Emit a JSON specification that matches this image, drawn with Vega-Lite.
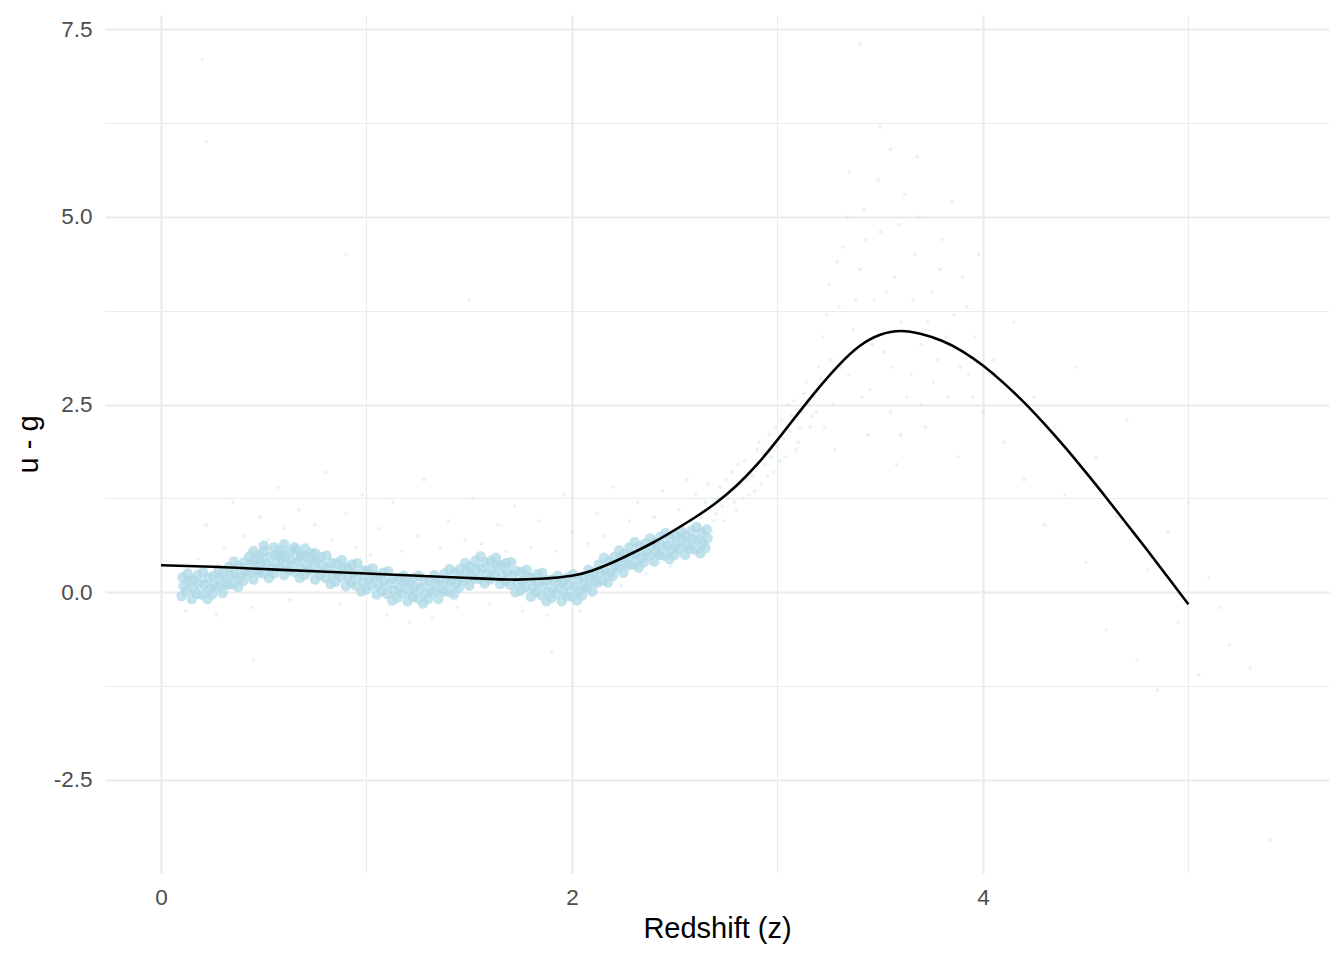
{
  "$schema": "https://vega.github.io/schema/vega-lite/v6.json",
  "width": 1224,
  "height": 858,
  "autosize": {"type": "none"},
  "padding": {"left": 105, "top": 15, "right": 15, "bottom": 87},
  "background": "white",
  "config": {
    "view": {"stroke": null},
    "font": "Liberation Sans",
    "axis": {
      "domain": false,
      "ticks": false,
      "grid": true,
      "gridColor": "#EBEBEB",
      "labelFont": "Liberation Sans",
      "labelFontSize": 22.5,
      "labelColor": "#4D4D4D",
      "titleFont": "Liberation Sans",
      "titleFontSize": 29,
      "titleFontWeight": "normal",
      "titleColor": "black"
    }
  },
  "datasets": {
    "core": [
      {"z":0.100,"ug":-0.05},{"z":0.110,"ug":0.08},{"z":0.105,"ug":0.20},
      {"z":0.125,"ug":0.02},{"z":0.135,"ug":0.15},{"z":0.130,"ug":0.25},
      {"z":0.150,"ug":-0.09},{"z":0.160,"ug":0.04},{"z":0.155,"ug":0.16},
      {"z":0.175,"ug":-0.02},{"z":0.185,"ug":0.12},{"z":0.180,"ug":0.23},
      {"z":0.200,"ug":-0.03},{"z":0.210,"ug":0.10},{"z":0.205,"ug":0.27},
      {"z":0.225,"ug":-0.09},{"z":0.235,"ug":0.04},{"z":0.230,"ug":0.19},
      {"z":0.250,"ug":-0.03},{"z":0.260,"ug":0.10},{"z":0.255,"ug":0.22},
      {"z":0.275,"ug":0.07},{"z":0.285,"ug":0.20},{"z":0.280,"ug":0.30},
      {"z":0.300,"ug":-0.01},{"z":0.310,"ug":0.12},{"z":0.305,"ug":0.24},
      {"z":0.325,"ug":0.10},{"z":0.335,"ug":0.23},{"z":0.330,"ug":0.34},
      {"z":0.350,"ug":0.11},{"z":0.360,"ug":0.24},{"z":0.355,"ug":0.41},
      {"z":0.375,"ug":0.07},{"z":0.385,"ug":0.20},{"z":0.380,"ug":0.35},
      {"z":0.400,"ug":0.15},{"z":0.410,"ug":0.28},{"z":0.405,"ug":0.40},
      {"z":0.425,"ug":0.25},{"z":0.435,"ug":0.38},{"z":0.430,"ug":0.48},
      {"z":0.450,"ug":0.17},{"z":0.460,"ug":0.30},{"z":0.455,"ug":0.42},
      {"z":0.475,"ug":0.26},{"z":0.485,"ug":0.39},{"z":0.480,"ug":0.50},
      {"z":0.500,"ug":0.25},{"z":0.510,"ug":0.38},{"z":0.505,"ug":0.55},
      {"z":0.525,"ug":0.19},{"z":0.535,"ug":0.32},{"z":0.530,"ug":0.47},
      {"z":0.550,"ug":0.25},{"z":0.560,"ug":0.38},{"z":0.555,"ug":0.50},
      {"z":0.575,"ug":0.33},{"z":0.585,"ug":0.46},{"z":0.580,"ug":0.56},
      {"z":0.600,"ug":0.23},{"z":0.610,"ug":0.36},{"z":0.605,"ug":0.48},
      {"z":0.625,"ug":0.30},{"z":0.635,"ug":0.43},{"z":0.630,"ug":0.54},
      {"z":0.650,"ug":0.27},{"z":0.660,"ug":0.40},{"z":0.655,"ug":0.57},
      {"z":0.675,"ug":0.19},{"z":0.685,"ug":0.32},{"z":0.680,"ug":0.47},
      {"z":0.700,"ug":0.23},{"z":0.710,"ug":0.36},{"z":0.705,"ug":0.48},
      {"z":0.725,"ug":0.29},{"z":0.735,"ug":0.42},{"z":0.730,"ug":0.52},
      {"z":0.750,"ug":0.17},{"z":0.760,"ug":0.30},{"z":0.755,"ug":0.42},
      {"z":0.775,"ug":0.23},{"z":0.785,"ug":0.36},{"z":0.780,"ug":0.47},
      {"z":0.800,"ug":0.19},{"z":0.810,"ug":0.32},{"z":0.805,"ug":0.49},
      {"z":0.825,"ug":0.11},{"z":0.835,"ug":0.24},{"z":0.830,"ug":0.39},
      {"z":0.850,"ug":0.14},{"z":0.860,"ug":0.27},{"z":0.855,"ug":0.39},
      {"z":0.875,"ug":0.20},{"z":0.885,"ug":0.33},{"z":0.880,"ug":0.43},
      {"z":0.900,"ug":0.08},{"z":0.910,"ug":0.21},{"z":0.905,"ug":0.33},
      {"z":0.925,"ug":0.13},{"z":0.935,"ug":0.26},{"z":0.930,"ug":0.37},
      {"z":0.950,"ug":0.09},{"z":0.960,"ug":0.22},{"z":0.955,"ug":0.39},
      {"z":0.975,"ug":0.01},{"z":0.985,"ug":0.14},{"z":0.980,"ug":0.29},
      {"z":1.000,"ug":0.04},{"z":1.010,"ug":0.17},{"z":1.005,"ug":0.29},
      {"z":1.025,"ug":0.09},{"z":1.035,"ug":0.22},{"z":1.030,"ug":0.32},
      {"z":1.050,"ug":-0.03},{"z":1.060,"ug":0.10},{"z":1.055,"ug":0.22},
      {"z":1.075,"ug":0.02},{"z":1.085,"ug":0.15},{"z":1.080,"ug":0.26},
      {"z":1.100,"ug":-0.02},{"z":1.110,"ug":0.11},{"z":1.105,"ug":0.28},
      {"z":1.125,"ug":-0.11},{"z":1.135,"ug":0.03},{"z":1.130,"ug":0.18},
      {"z":1.150,"ug":-0.07},{"z":1.160,"ug":0.06},{"z":1.155,"ug":0.18},
      {"z":1.175,"ug":-0.01},{"z":1.185,"ug":0.12},{"z":1.180,"ug":0.22},
      {"z":1.200,"ug":-0.12},{"z":1.210,"ug":0.01},{"z":1.205,"ug":0.13},
      {"z":1.225,"ug":-0.06},{"z":1.235,"ug":0.08},{"z":1.230,"ug":0.19},
      {"z":1.250,"ug":-0.08},{"z":1.260,"ug":0.05},{"z":1.255,"ug":0.22},
      {"z":1.275,"ug":-0.15},{"z":1.285,"ug":-0.02},{"z":1.280,"ug":0.14},
      {"z":1.300,"ug":-0.09},{"z":1.310,"ug":0.04},{"z":1.305,"ug":0.16},
      {"z":1.325,"ug":0.00},{"z":1.335,"ug":0.13},{"z":1.330,"ug":0.23},
      {"z":1.350,"ug":-0.09},{"z":1.360,"ug":0.04},{"z":1.355,"ug":0.16},
      {"z":1.375,"ug":0.01},{"z":1.385,"ug":0.14},{"z":1.380,"ug":0.25},
      {"z":1.400,"ug":0.01},{"z":1.410,"ug":0.14},{"z":1.405,"ug":0.31},
      {"z":1.425,"ug":-0.03},{"z":1.435,"ug":0.11},{"z":1.430,"ug":0.26},
      {"z":1.450,"ug":0.06},{"z":1.460,"ug":0.19},{"z":1.455,"ug":0.31},
      {"z":1.475,"ug":0.16},{"z":1.485,"ug":0.29},{"z":1.480,"ug":0.39},
      {"z":1.500,"ug":0.09},{"z":1.510,"ug":0.22},{"z":1.505,"ug":0.34},
      {"z":1.525,"ug":0.18},{"z":1.535,"ug":0.31},{"z":1.530,"ug":0.42},
      {"z":1.550,"ug":0.18},{"z":1.560,"ug":0.31},{"z":1.555,"ug":0.48},
      {"z":1.575,"ug":0.12},{"z":1.585,"ug":0.25},{"z":1.580,"ug":0.40},
      {"z":1.600,"ug":0.17},{"z":1.610,"ug":0.30},{"z":1.605,"ug":0.42},
      {"z":1.625,"ug":0.23},{"z":1.635,"ug":0.36},{"z":1.630,"ug":0.46},
      {"z":1.650,"ug":0.11},{"z":1.660,"ug":0.24},{"z":1.655,"ug":0.36},
      {"z":1.675,"ug":0.15},{"z":1.685,"ug":0.28},{"z":1.680,"ug":0.39},
      {"z":1.700,"ug":0.10},{"z":1.710,"ug":0.23},{"z":1.705,"ug":0.40},
      {"z":1.725,"ug":0.00},{"z":1.735,"ug":0.13},{"z":1.730,"ug":0.28},
      {"z":1.750,"ug":0.02},{"z":1.760,"ug":0.15},{"z":1.755,"ug":0.27},
      {"z":1.775,"ug":0.07},{"z":1.785,"ug":0.20},{"z":1.780,"ug":0.30},
      {"z":1.800,"ug":-0.06},{"z":1.810,"ug":0.07},{"z":1.805,"ug":0.19},
      {"z":1.825,"ug":0.00},{"z":1.835,"ug":0.13},{"z":1.830,"ug":0.24},
      {"z":1.850,"ug":-0.04},{"z":1.860,"ug":0.09},{"z":1.855,"ug":0.26},
      {"z":1.875,"ug":-0.12},{"z":1.885,"ug":0.01},{"z":1.880,"ug":0.16},
      {"z":1.900,"ug":-0.08},{"z":1.910,"ug":0.05},{"z":1.905,"ug":0.17},
      {"z":1.925,"ug":-0.02},{"z":1.935,"ug":0.12},{"z":1.930,"ug":0.22},
      {"z":1.950,"ug":-0.12},{"z":1.960,"ug":0.01},{"z":1.955,"ug":0.13},
      {"z":1.975,"ug":-0.05},{"z":1.985,"ug":0.09},{"z":1.980,"ug":0.20},
      {"z":2.000,"ug":-0.06},{"z":2.010,"ug":0.07},{"z":2.005,"ug":0.24},
      {"z":2.025,"ug":-0.11},{"z":2.035,"ug":0.02},{"z":2.030,"ug":0.17},
      {"z":2.050,"ug":-0.04},{"z":2.060,"ug":0.09},{"z":2.055,"ug":0.21},
      {"z":2.075,"ug":0.07},{"z":2.085,"ug":0.20},{"z":2.080,"ug":0.30},
      {"z":2.100,"ug":0.01},{"z":2.110,"ug":0.14},{"z":2.105,"ug":0.26},
      {"z":2.125,"ug":0.13},{"z":2.135,"ug":0.26},{"z":2.130,"ug":0.37},
      {"z":2.150,"ug":0.16},{"z":2.160,"ug":0.29},{"z":2.155,"ug":0.46},
      {"z":2.175,"ug":0.13},{"z":2.185,"ug":0.26},{"z":2.180,"ug":0.41},
      {"z":2.200,"ug":0.22},{"z":2.210,"ug":0.35},{"z":2.205,"ug":0.47},
      {"z":2.225,"ug":0.33},{"z":2.235,"ug":0.46},{"z":2.230,"ug":0.56},
      {"z":2.250,"ug":0.26},{"z":2.260,"ug":0.39},{"z":2.255,"ug":0.51},
      {"z":2.275,"ug":0.36},{"z":2.285,"ug":0.49},{"z":2.280,"ug":0.60},
      {"z":2.300,"ug":0.37},{"z":2.310,"ug":0.50},{"z":2.305,"ug":0.67},
      {"z":2.325,"ug":0.33},{"z":2.335,"ug":0.46},{"z":2.330,"ug":0.61},
      {"z":2.350,"ug":0.40},{"z":2.360,"ug":0.53},{"z":2.355,"ug":0.65},
      {"z":2.375,"ug":0.49},{"z":2.385,"ug":0.62},{"z":2.380,"ug":0.72},
      {"z":2.400,"ug":0.41},{"z":2.410,"ug":0.54},{"z":2.405,"ug":0.66},
      {"z":2.425,"ug":0.50},{"z":2.435,"ug":0.63},{"z":2.430,"ug":0.74},
      {"z":2.450,"ug":0.49},{"z":2.460,"ug":0.62},{"z":2.455,"ug":0.79},
      {"z":2.475,"ug":0.44},{"z":2.485,"ug":0.57},{"z":2.480,"ug":0.72},
      {"z":2.500,"ug":0.50},{"z":2.510,"ug":0.63},{"z":2.505,"ug":0.75},
      {"z":2.525,"ug":0.59},{"z":2.535,"ug":0.72},{"z":2.530,"ug":0.82},
      {"z":2.550,"ug":0.50},{"z":2.560,"ug":0.63},{"z":2.555,"ug":0.75},
      {"z":2.575,"ug":0.58},{"z":2.585,"ug":0.71},{"z":2.580,"ug":0.82},
      {"z":2.600,"ug":0.57},{"z":2.610,"ug":0.70},{"z":2.605,"ug":0.87},
      {"z":2.625,"ug":0.52},{"z":2.635,"ug":0.65},{"z":2.630,"ug":0.80},
      {"z":2.650,"ug":0.59},{"z":2.660,"ug":0.72},{"z":2.655,"ug":0.84},
      {"z":0.45,"ug":0.55},{"z":0.50,"ug":0.62},{"z":0.55,"ug":0.60},{"z":0.60,"ug":0.64},
      {"z":0.65,"ug":0.60},{"z":0.70,"ug":0.58},{"z":0.75,"ug":0.52},{"z":0.48,"ug":0.45},
      {"z":0.58,"ug":0.50},{"z":0.68,"ug":0.50}
    ],
    "scatter": [
      {"z":0.12,"ug":-0.25},{"z":0.18,"ug":0.45},{"z":0.22,"ug":0.9},{"z":0.27,"ug":-0.3},
      {"z":0.31,"ug":0.6},{"z":0.35,"ug":1.2},{"z":0.4,"ug":0.75},{"z":0.44,"ug":-0.2},
      {"z":0.48,"ug":1.0},{"z":0.52,"ug":0.7},{"z":0.57,"ug":1.4},{"z":0.6,"ug":0.85},
      {"z":0.63,"ug":-0.1},{"z":0.67,"ug":1.1},{"z":0.71,"ug":0.65},{"z":0.75,"ug":0.9},
      {"z":0.8,"ug":1.6},{"z":0.83,"ug":0.7},{"z":0.87,"ug":-0.15},{"z":0.9,"ug":1.05},
      {"z":0.95,"ug":0.6},{"z":0.98,"ug":1.3},{"z":1.02,"ug":0.5},{"z":1.06,"ug":0.85},
      {"z":1.1,"ug":-0.3},{"z":1.13,"ug":1.2},{"z":1.17,"ug":0.55},{"z":1.21,"ug":-0.4},
      {"z":1.25,"ug":0.75},{"z":1.28,"ug":1.5},{"z":1.32,"ug":-0.35},{"z":1.36,"ug":0.6},
      {"z":1.4,"ug":0.95},{"z":1.44,"ug":-0.2},{"z":1.48,"ug":0.7},{"z":1.52,"ug":1.25},
      {"z":1.56,"ug":0.65},{"z":1.6,"ug":-0.15},{"z":1.64,"ug":0.9},{"z":1.68,"ug":0.55},
      {"z":1.72,"ug":1.15},{"z":1.76,"ug":-0.25},{"z":1.8,"ug":0.6},{"z":1.84,"ug":0.95},
      {"z":1.88,"ug":-0.3},{"z":1.92,"ug":0.55},{"z":1.96,"ug":1.3},{"z":2.0,"ug":0.8},
      {"z":2.04,"ug":-0.25},{"z":2.08,"ug":0.65},{"z":2.12,"ug":1.05},{"z":2.16,"ug":0.75},
      {"z":2.2,"ug":1.4},{"z":2.24,"ug":0.1},{"z":2.28,"ug":0.95},{"z":2.32,"ug":1.2},
      {"z":2.36,"ug":0.25},{"z":2.4,"ug":1.0},{"z":2.44,"ug":1.35},{"z":2.48,"ug":0.35},
      {"z":2.52,"ug":1.1},{"z":2.56,"ug":1.5},
      {"z":2.62,"ug":0.9},{"z":2.65,"ug":1.2},{"z":2.68,"ug":0.8},{"z":2.7,"ug":1.05},
      {"z":2.72,"ug":1.4},{"z":2.74,"ug":0.95},{"z":2.76,"ug":1.25},{"z":2.78,"ug":1.6},
      {"z":2.8,"ug":1.1},{"z":2.82,"ug":1.45},{"z":2.84,"ug":1.75},{"z":2.86,"ug":1.3},
      {"z":2.88,"ug":1.55},{"z":2.9,"ug":1.9},{"z":2.92,"ug":1.45},{"z":2.94,"ug":1.7},
      {"z":2.96,"ug":2.1},{"z":2.98,"ug":1.6},{"z":3.0,"ug":1.95},{"z":3.02,"ug":2.3},
      {"z":3.04,"ug":1.8},{"z":3.06,"ug":2.15},{"z":3.08,"ug":2.55},{"z":3.1,"ug":2.0},
      {"z":3.12,"ug":2.4},{"z":3.14,"ug":2.8},{"z":3.16,"ug":2.2},{"z":3.18,"ug":2.6},
      {"z":3.2,"ug":3.0},{"z":2.63,"ug":1.0},{"z":2.67,"ug":1.1},{"z":2.73,"ug":1.15},
      {"z":2.77,"ug":1.35},{"z":2.83,"ug":1.25},{"z":2.87,"ug":1.6},{"z":2.93,"ug":1.85},
      {"z":2.97,"ug":1.8},{"z":3.03,"ug":2.05},{"z":3.07,"ug":2.35},{"z":3.11,"ug":2.2},
      {"z":3.15,"ug":2.5},{"z":3.19,"ug":2.4},
      {"z":2.58,"ug":0.95},{"z":2.6,"ug":1.3},{"z":2.64,"ug":0.75},{"z":2.66,"ug":1.45},
      {"z":2.69,"ug":0.95},{"z":2.71,"ug":1.25},{"z":2.75,"ug":1.5},{"z":2.79,"ug":1.2},
      {"z":2.81,"ug":1.7},{"z":2.85,"ug":1.5},{"z":2.89,"ug":1.35},{"z":2.91,"ug":2.0},
      {"z":2.95,"ug":1.55},{"z":2.99,"ug":2.2},{"z":3.01,"ug":1.75},{"z":3.05,"ug":2.5},
      {"z":3.09,"ug":1.9},{"z":3.13,"ug":2.65},{"z":3.17,"ug":2.35},{"z":3.21,"ug":2.85},
      {"z":3.23,"ug":2.2},{"z":3.26,"ug":3.1},
      {"z":3.22,"ug":3.4},{"z":3.25,"ug":4.1},{"z":3.27,"ug":2.5},{"z":3.3,"ug":3.8},
      {"z":3.32,"ug":4.6},{"z":3.35,"ug":2.9},{"z":3.37,"ug":3.5},{"z":3.4,"ug":4.3},
      {"z":3.42,"ug":5.1},{"z":3.45,"ug":2.7},{"z":3.47,"ug":3.9},{"z":3.5,"ug":4.8},
      {"z":3.52,"ug":3.2},{"z":3.55,"ug":2.4},{"z":3.57,"ug":4.2},{"z":3.6,"ug":3.6},
      {"z":3.62,"ug":5.3},{"z":3.65,"ug":2.9},{"z":3.67,"ug":4.5},{"z":3.7,"ug":3.3},
      {"z":3.72,"ug":2.2},{"z":3.75,"ug":4.0},{"z":3.78,"ug":3.1},{"z":3.8,"ug":4.7},
      {"z":3.83,"ug":2.6},{"z":3.86,"ug":3.7},{"z":3.9,"ug":4.2},{"z":3.93,"ug":2.9},
      {"z":3.96,"ug":3.4},{"z":4.0,"ug":2.4},{"z":3.28,"ug":1.9},{"z":3.44,"ug":2.1},
      {"z":3.58,"ug":1.7},{"z":3.68,"ug":5.8},{"z":3.5,"ug":6.2},{"z":3.88,"ug":1.8},
      {"z":3.24,"ug":3.7},{"z":3.29,"ug":4.4},{"z":3.31,"ug":3.0},{"z":3.34,"ug":5.0},
      {"z":3.38,"ug":3.9},{"z":3.41,"ug":2.6},{"z":3.43,"ug":4.7},{"z":3.46,"ug":3.3},
      {"z":3.49,"ug":5.5},{"z":3.53,"ug":4.0},{"z":3.56,"ug":3.0},{"z":3.59,"ug":4.9},
      {"z":3.63,"ug":2.6},{"z":3.66,"ug":3.9},{"z":3.69,"ug":5.0},{"z":3.73,"ug":3.6},
      {"z":3.76,"ug":2.8},{"z":3.79,"ug":4.3},{"z":3.82,"ug":3.4},{"z":3.85,"ug":5.2},
      {"z":3.89,"ug":3.0},{"z":3.92,"ug":3.8},{"z":3.95,"ug":2.6},{"z":3.98,"ug":4.5},
      {"z":3.35,"ug":5.6},{"z":3.55,"ug":5.9},{"z":3.7,"ug":2.5},{"z":3.6,"ug":2.1},
      {"z":4.05,"ug":3.1},{"z":4.1,"ug":2.0},{"z":4.15,"ug":3.6},{"z":4.2,"ug":1.5},
      {"z":4.25,"ug":2.6},{"z":4.3,"ug":0.9},{"z":4.35,"ug":2.2},{"z":4.4,"ug":1.3},
      {"z":4.45,"ug":3.0},{"z":4.5,"ug":0.4},{"z":4.55,"ug":1.8},{"z":4.6,"ug":-0.5},
      {"z":4.65,"ug":1.0},{"z":4.7,"ug":2.3},{"z":4.75,"ug":-0.9},{"z":4.8,"ug":0.3},
      {"z":4.85,"ug":-1.3},{"z":4.9,"ug":0.8},{"z":4.95,"ug":-0.4},{"z":5.0,"ug":1.2},
      {"z":5.05,"ug":-1.1},{"z":5.1,"ug":0.2},{"z":5.2,"ug":-0.7},{"z":5.3,"ug":-1.0},
      {"z":5.15,"ug":-0.2},{"z":0.2,"ug":7.1},{"z":0.22,"ug":6.0},{"z":0.9,"ug":4.5},
      {"z":1.5,"ug":3.9},{"z":0.45,"ug":-0.9},{"z":1.9,"ug":-0.8},{"z":3.4,"ug":7.3},
      {"z":5.4,"ug":-3.3}
    ],
    "fit": [
      {"z":0.0,"ug":0.36},{"z":0.25,"ug":0.34},{"z":0.5,"ug":0.31},{"z":0.75,"ug":0.28},
      {"z":1.0,"ug":0.25},{"z":1.25,"ug":0.22},{"z":1.5,"ug":0.19},{"z":1.7,"ug":0.17},
      {"z":1.85,"ug":0.18},{"z":2.0,"ug":0.22},{"z":2.1,"ug":0.29},{"z":2.2,"ug":0.40},
      {"z":2.3,"ug":0.53},{"z":2.4,"ug":0.67},{"z":2.5,"ug":0.83},{"z":2.6,"ug":1.00},
      {"z":2.7,"ug":1.19},{"z":2.8,"ug":1.42},{"z":2.9,"ug":1.70},{"z":3.0,"ug":2.03},
      {"z":3.1,"ug":2.38},{"z":3.2,"ug":2.72},{"z":3.3,"ug":3.03},{"z":3.4,"ug":3.28},
      {"z":3.5,"ug":3.43},{"z":3.6,"ug":3.48},{"z":3.7,"ug":3.44},{"z":3.8,"ug":3.35},
      {"z":3.9,"ug":3.21},{"z":4.0,"ug":3.02},{"z":4.1,"ug":2.79},{"z":4.2,"ug":2.53},
      {"z":4.3,"ug":2.24},{"z":4.4,"ug":1.93},{"z":4.5,"ug":1.60},{"z":4.6,"ug":1.26},
      {"z":4.7,"ug":0.91},{"z":4.8,"ug":0.56},{"z":4.9,"ug":0.20},{"z":5.0,"ug":-0.16}
    ]
  },
  "encoding": {
    "x": {
      "field": "z",
      "type": "quantitative",
      "title": "Redshift (z)",
      "scale": {"domain": [-0.2725, 5.684], "nice": false, "zero": false},
      "axis": {
        "values": [0, 1, 2, 3, 4, 5],
        "labelExpr": "datum.value % 2 === 0 ? datum.label : ''",
        "gridWidth": {"condition": {"test": "datum.value % 2 === 0", "value": 2.2}, "value": 1.1},
        "labelPadding": 13,
        "titlePadding": 6
      }
    },
    "y": {
      "field": "ug",
      "type": "quantitative",
      "title": "u - g",
      "scale": {"domain": [-3.739, 7.69], "nice": false, "zero": false},
      "axis": {
        "values": [-2.5, -1.25, 0, 1.25, 2.5, 3.75, 5, 6.25, 7.5],
        "labelExpr": "abs(datum.value % 2.5) < 0.001 ? (datum.value < 0 ? '-' : '') + format(abs(datum.value), '.1f') : ''",
        "gridWidth": {"condition": {"test": "abs(datum.value % 2.5) < 0.001", "value": 2.2}, "value": 1.1},
        "labelPadding": 13,
        "titlePadding": 10
      }
    }
  },
  "layer": [
    {
      "data": {"name": "core"},
      "mark": {"type": "circle", "size": 110, "opacity": 0.75, "color": "#ADD8E6", "strokeWidth": 0}
    },
    {
      "data": {"name": "scatter"},
      "mark": {"type": "circle", "size": 14, "opacity": 0.3, "color": "#ADD8E6", "strokeWidth": 0}
    },
    {
      "data": {"name": "fit"},
      "mark": {"type": "line", "color": "black", "strokeWidth": 2.6, "interpolate": "natural"}
    }
  ]
}
